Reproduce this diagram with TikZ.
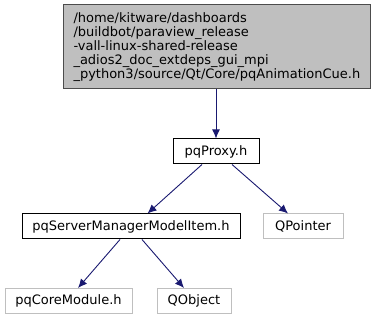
\documentclass[tikz,border=0pt]{standalone}
\usepackage{fontspec}
\setmainfont{DejaVu Sans}
\usetikzlibrary{arrows.meta}
\definecolor{edgeblue}{HTML}{191970}
\definecolor{boxgray}{HTML}{BFBFBF}
\begin{document}
\begin{tikzpicture}[x=1pt,y=-1pt,
  every node/.style={font=\fontsize{13}{14}\selectfont, inner sep=0pt, anchor=center},
  filebox/.style={draw=black, line width=1pt, minimum height=25pt},
  extbox/.style={draw=boxgray, line width=1pt, minimum height=25pt},
  dep/.style={draw=edgeblue, line width=0.9pt, -{Latex[length=9pt,width=8pt]}}]
\useasboundingbox (0,0) rectangle (375,320);
% the header whose includes are shown
\node[draw=black!70, fill=boxgray, line width=1pt, minimum height=84pt,
      align=left, text width=286pt, inner xsep=10.5pt] (top) at (216.5,47)
  {/home/kitware/dashboards\\/buildbot/paraview\_release\\-vall-linux-shared-release\\\_adios2\_doc\_extdeps\_gui\_mpi\\\_python3/source/Qt/Core/pqAnimationCue.h};
\node[filebox, minimum width=86pt] (proxy) at (216,151.5) {pqProxy.h};
\node[filebox, minimum width=218pt] (item) at (131,226.5) {pqServerManagerModelItem.h};
\node[extbox, minimum width=80pt] (qpointer) at (303,226.5) {QPointer};
\node[extbox, minimum width=127pt] (core) at (68.5,301) {pqCoreModule.h};
\node[extbox, minimum width=74pt] (qobject) at (194,301) {QObject};
% include edges
\draw[dep] (top.south -| proxy.north) -- (proxy.north);
\draw[dep] ([xshift=-14pt]proxy.south) -- ([xshift=16.5pt]item.north);
\draw[dep] ([xshift=16pt]proxy.south) -- ([xshift=-15pt]qpointer.north);
\draw[dep] ([xshift=-11pt]item.south) -- ([xshift=9.5pt]core.north);
\draw[dep] ([xshift=11pt]item.south) -- ([xshift=-10pt]qobject.north);
\end{tikzpicture}
\end{document}
